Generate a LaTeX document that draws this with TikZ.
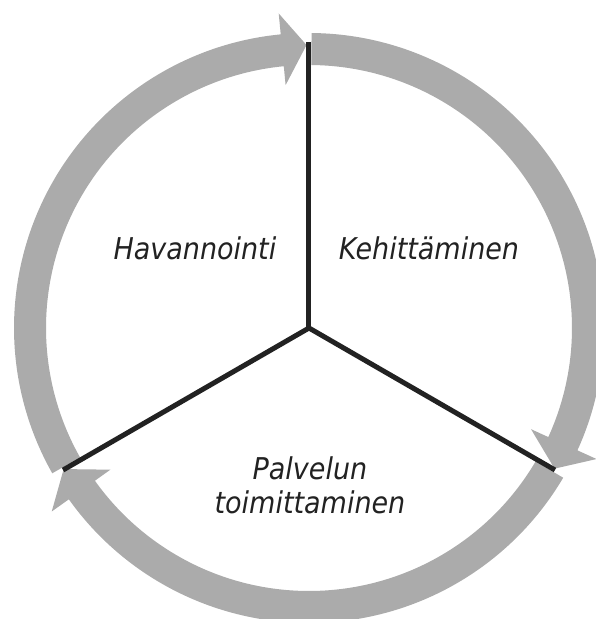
\documentclass[tikz,border=0pt]{standalone}
\usepackage{fontspec}
\setmainfont{DejaVu Sans Condensed}[ItalicFont={DejaVu Sans Condensed Oblique}]
\usetikzlibrary{positioning}

\definecolor{ringgray}{RGB}{171,171,171}
\definecolor{spokeblack}{RGB}{34,34,34}

\tikzset{
  ringarrow/.style={fill=ringgray},
  spoke/.style={draw=spokeblack, line width=5pt},
  phase/.style={font=\fontsize{30}{34}\selectfont\itshape, text=spokeblack, inner sep=0pt, align=center}
}

\begin{document}
\begin{tikzpicture}[x=1pt, y=1pt]
    \useasboundingbox (-309,-291) rectangle (286,328);
    % Ring of three arrows
    \foreach \s/\b/\t in {209.5/95.5/90.5, 89.5/-24.5/-29.8, -30.5/-144.5/-150.1} {
        \fill[ringarrow] (\s:295) arc[start angle=\s, end angle=\b, radius=295]
            -- (\b:316) -- (\t:283) -- (\b:244) -- (\b:263)
            arc[start angle=\b, end angle=\s, radius=263] -- cycle;
    }
    % Spokes
    \coordinate (hub) at (0,0);
    \coordinate (top) at (90:286);
    \coordinate (right) at (-30:284);
    \coordinate (left) at (210:284);
    \draw[spoke] (hub) -- (top);
    \draw[spoke] (hub) -- (right);
    \draw[spoke] (hub) -- (left);
    % Phases
    \node (havannointi) [phase, anchor=base] at (-114,69) {Havannointi};
    \node (kehittaminen) [phase, anchor=base] at (120,69) {Kehittäminen};
    \node (palvelu) [phase, anchor=base] at (1,-185) {Palvelun\\toimittaminen};
\end{tikzpicture}
\end{document}
